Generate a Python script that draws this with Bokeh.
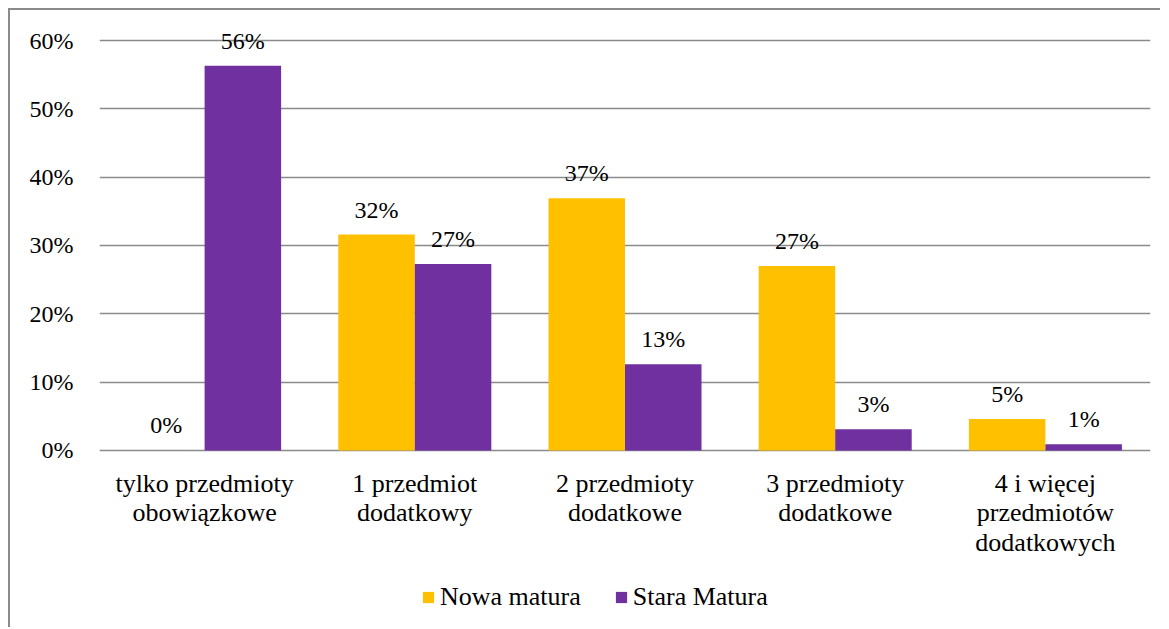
from bokeh.plotting import figure
from bokeh.layouts import column
from bokeh.models import ColumnDataSource, Range1d, FactorRange, NumeralTickFormatter, Legend, LegendItem, FixedTicker
from bokeh.transform import dodge
from bokeh.core.properties import value
from bokeh.embed import file_html
from bokeh.resources import INLINE

categories = ["tylko przedmioty\nobowiązkowe", "1 przedmiot\ndodatkowy", "2 przedmioty\ndodatkowe",
              "3 przedmioty\ndodatkowe", "4 i więcej\nprzedmiotów\ndodatkowych"]
nowa = [0.0, 0.316, 0.369, 0.270, 0.046]
stara = [0.563, 0.273, 0.126, 0.031, 0.009]
series_names = ["Nowa matura", "Stara Matura"]
y_ticks = [0.0, 0.1, 0.2, 0.3, 0.4, 0.5, 0.6]

FONT = "Liberation Serif"
C_NOWA = "#FFC000"
C_STARA = "#7030A0"
NUM_SIZE = "24px"
WORD_SIZE = "26px"

source = ColumnDataSource(dict(
    cat=categories,
    nowa=nowa,
    stara=stara,
    nowa_lbl=[f"{round(v * 100)}%" for v in nowa],
    stara_lbl=[f"{round(v * 100)}%" for v in stara],
))

# layout: 683.2 px per unit on y, frame 432 px high
frame_h = 432
y0 = -0.003
y1 = y0 + frame_h / 683.2

p = figure(width=1150, height=557, output_backend="svg", toolbar_location=None,
           x_range=FactorRange(*categories, range_padding=0), y_range=Range1d(y0, y1),
           min_border_left=89, min_border_right=10, min_border_top=10, min_border_bottom=115)
p.outline_line_color = None
p.background_fill_color = "white"
p.border_fill_color = "white"

bw = 0.364
r1 = p.vbar(x=dodge("cat", -bw / 2, range=p.x_range), top="nowa", bottom=0, width=bw,
            source=source, fill_color=C_NOWA, line_color=None)
r2 = p.vbar(x=dodge("cat", bw / 2, range=p.x_range), top="stara", bottom=0, width=bw,
            source=source, fill_color=C_STARA, line_color=None)

p.text(x=dodge("cat", -bw / 2, range=p.x_range), y="nowa", text="nowa_lbl", source=source,
       text_font=value(FONT), text_font_size=NUM_SIZE, text_color="black",
       text_align="center", text_baseline="middle", y_offset=-25)
p.text(x=dodge("cat", bw / 2, range=p.x_range), y="stara", text="stara_lbl", source=source,
       text_font=value(FONT), text_font_size=NUM_SIZE, text_color="black",
       text_align="center", text_baseline="middle", y_offset=-25)

# grid
p.xgrid.grid_line_color = None
p.ygrid.grid_line_color = "#8a8a8a"
p.ygrid.grid_line_width = 1.6
p.ygrid.ticker = FixedTicker(ticks=y_ticks)

# y axis
p.yaxis.ticker = FixedTicker(ticks=y_ticks)
p.yaxis.formatter = NumeralTickFormatter(format="0%")
p.yaxis.axis_line_color = None
p.yaxis.major_tick_line_color = None
p.yaxis.minor_tick_line_color = None
p.yaxis.major_tick_out = 0
p.yaxis.major_label_standoff = 26
p.yaxis.major_label_text_font = FONT
p.yaxis.major_label_text_font_size = NUM_SIZE
p.yaxis.major_label_text_color = "black"

# x axis
p.xaxis.axis_line_color = None
p.xaxis.major_tick_line_color = None
p.xaxis.major_tick_out = 0
p.xaxis.major_label_standoff = 16
p.xaxis.major_label_text_font = FONT
p.xaxis.major_label_text_font_size = WORD_SIZE
p.xaxis.major_label_text_color = "black"
p.xaxis.major_label_text_line_height = 1.03

# legend figure
p2 = figure(width=1150, height=60, output_backend="svg", toolbar_location=None,
            x_range=Range1d(0, 1), y_range=Range1d(0, 1),
            min_border=0, x_axis_location=None, y_axis_location=None)
p2.outline_line_color = None
p2.grid.grid_line_color = None
l1 = p2.vbar(x=dodge("cat", -bw / 2, range=p.x_range), top="nowa", width=bw, source=source,
             fill_color=C_NOWA, line_color=None, visible=False)
l2 = p2.vbar(x=dodge("cat", bw / 2, range=p.x_range), top="stara", width=bw, source=source,
             fill_color=C_STARA, line_color=None, visible=False)
legend = Legend(items=[LegendItem(label=series_names[0], renderers=[l1]),
                       LegendItem(label=series_names[1], renderers=[l2])],
                orientation="horizontal", location=(322, 15),
                glyph_width=14, glyph_height=14, label_standoff=5, spacing=33,
                padding=0, margin=0, border_line_color=None, background_fill_alpha=0,
                inactive_fill_alpha=0,
                label_text_font=FONT, label_text_font_size=WORD_SIZE, label_text_color="black")
p2.add_layout(legend, "center")

layout = column(p, p2, spacing=0,
                styles={"border-left": "2px solid #8a8a8a", "border-top": "2px solid #8a8a8a",
                        "margin-left": "8px", "margin-top": "8px"})

open("out.html", "w").write(file_html(layout, INLINE))
